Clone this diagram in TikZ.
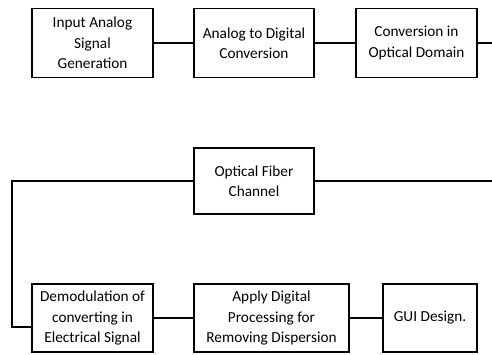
\documentclass[tikz,border=0pt]{standalone}
\usepackage{fontspec}
\setmainfont{Carlito}
\begin{document}
\begin{tikzpicture}[x=1pt,y=1pt,
  blk/.style={draw=black,line width=1.2pt,align=center,inner sep=2pt,
    font=\fontsize{15.3}{20.5}\selectfont},
  wire/.style={draw=black,line width=1.2pt}]
\useasboundingbox (0,0) rectangle (492,354);
\node[blk,minimum width=121,minimum height=69] (in) at (92.5,311) {Input Analog\\Signal\\Generation};
\node[blk,minimum width=120,minimum height=69] (adc) at (254,311) {Analog to Digital\\Conversion};
\node[blk,minimum width=121,minimum height=69] (opt) at (416.5,311) {Conversion in\\Optical Domain};
\node[blk,minimum width=120,minimum height=66] (fib) at (254,173) {Optical Fiber\\Channel};
\node[blk,minimum width=121,minimum height=68] (dem) at (92.5,36) {Demodulation of\\converting in\\Electrical Signal};
\node[blk,minimum width=155,minimum height=68] (dsp) at (271.5,36) {Apply Digital\\Processing for\\Removing Dispersion};
\node[blk,minimum width=94,minimum height=68] (gui) at (430,36) {GUI Design.};
\coordinate (r1) at (492,311);
\coordinate (r2) at (492,173);
\coordinate (l1) at (12,173);
\coordinate (l2) at (12,27);
\draw[wire] (in.east) -- (adc.west);
\draw[wire] (adc.east) -- (opt.west);
\draw[wire] (opt.east) -- (r1);
\draw[wire] (fib.east) -- (r2);
\draw[wire] (fib.west) -- (l1) -- (l2) -- (dem.west |- l2);
\draw[wire] (dem.east) -- (dsp.west);
\draw[wire] (dsp.east) -- (gui.west);
\end{tikzpicture}
\end{document}
